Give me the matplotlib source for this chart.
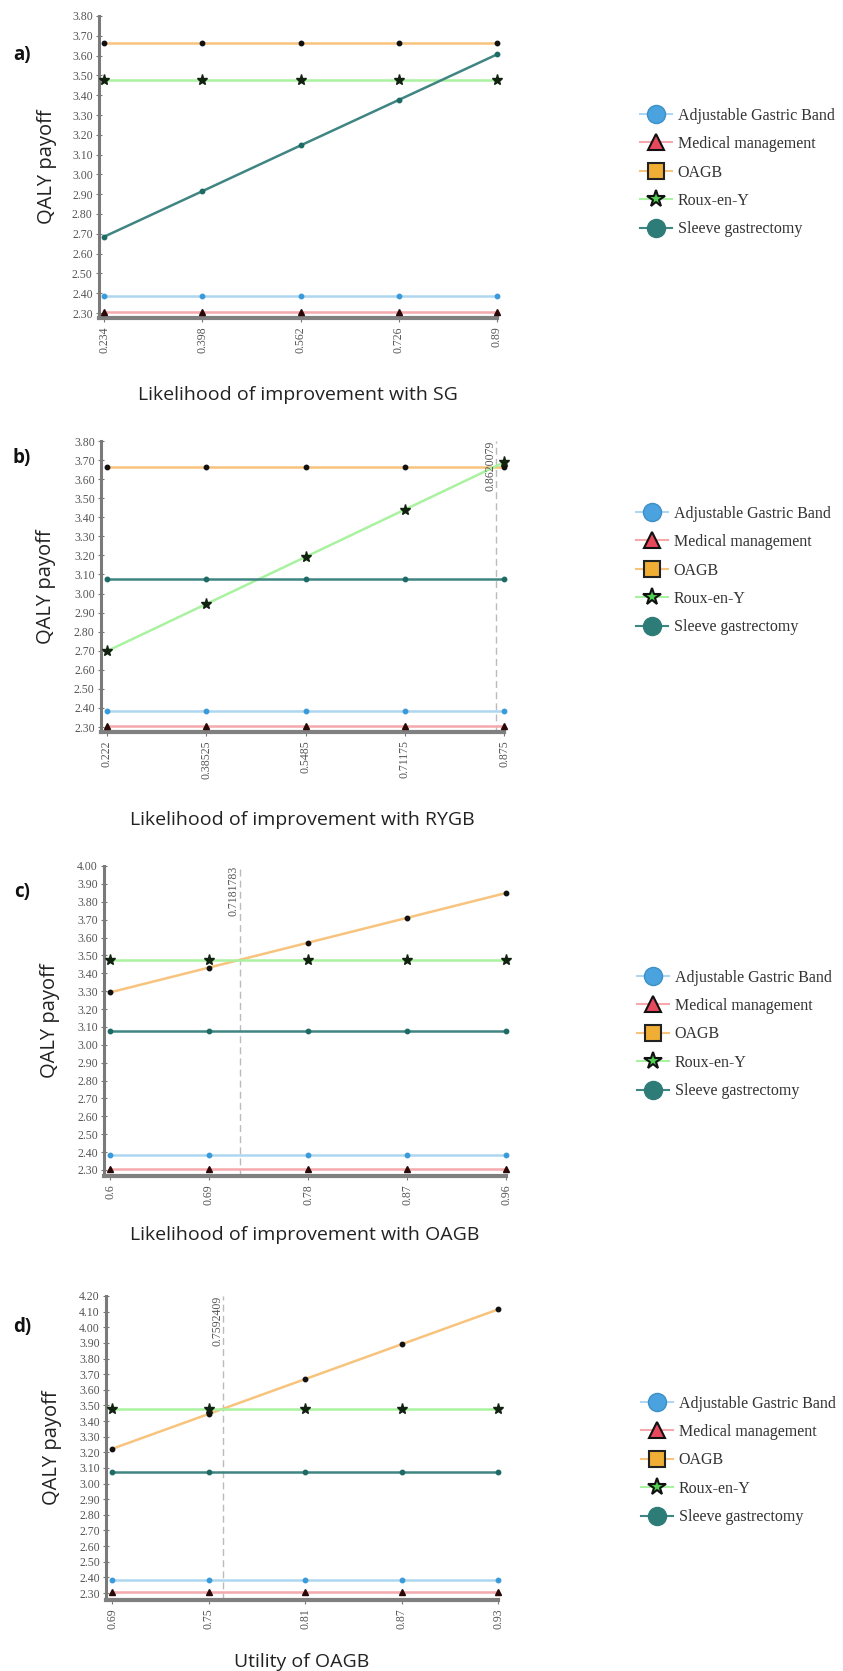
import matplotlib
matplotlib.use("Agg")
import matplotlib.pyplot as plt
from matplotlib.lines import Line2D
import numpy as np

# ---------------- data ----------------
series_names = ["Adjustable Gastric Band", "Medical management", "OAGB", "Roux-en-Y", "Sleeve gastrectomy"]

# panel a: likelihood of improvement with SG
a_x = [0.234, 0.398, 0.562, 0.726, 0.89]
a_xlabels = ["0.234", "0.398", "0.562", "0.726", "0.89"]
a_agb = [2.386, 2.386, 2.386, 2.386, 2.386]
a_mm = [2.305, 2.305, 2.305, 2.305, 2.305]
a_oagb = [3.664, 3.664, 3.664, 3.664, 3.664]
a_rygb = [3.475, 3.475, 3.475, 3.475, 3.475]
a_sg = [2.685, 2.915, 3.146, 3.376, 3.606]

# panel b: likelihood of improvement with RYGB
b_x = [0.222, 0.38525, 0.5485, 0.71175, 0.875]
b_xlabels = ["0.222", "0.38525", "0.5485", "0.71175", "0.875"]
b_agb = [2.386, 2.386, 2.386, 2.386, 2.386]
b_mm = [2.305, 2.305, 2.305, 2.305, 2.305]
b_oagb = [3.664, 3.664, 3.664, 3.664, 3.664]
b_rygb = [2.698, 2.945, 3.192, 3.440, 3.688]
b_sg = [3.076, 3.076, 3.076, 3.076, 3.076]
b_thresh = 0.8620079

# panel c: likelihood of improvement with OAGB
c_x = [0.6, 0.69, 0.78, 0.87, 0.96]
c_xlabels = ["0.6", "0.69", "0.78", "0.87", "0.96"]
c_agb = [2.386, 2.386, 2.386, 2.386, 2.386]
c_mm = [2.305, 2.305, 2.305, 2.305, 2.305]
c_oagb = [3.293, 3.432, 3.571, 3.710, 3.849]
c_rygb = [3.475, 3.475, 3.475, 3.475, 3.475]
c_sg = [3.076, 3.076, 3.076, 3.076, 3.076]
c_thresh = 0.7181783

# panel d: utility of OAGB
d_x = [0.69, 0.75, 0.81, 0.87, 0.93]
d_xlabels = ["0.69", "0.75", "0.81", "0.87", "0.93"]
d_agb = [2.386, 2.386, 2.386, 2.386, 2.386]
d_mm = [2.305, 2.305, 2.305, 2.305, 2.305]
d_oagb = [3.222, 3.445, 3.668, 3.891, 4.114]
d_rygb = [3.475, 3.475, 3.475, 3.475, 3.475]
d_sg = [3.076, 3.076, 3.076, 3.076, 3.076]
d_thresh = 0.7592409

panel_letters = ["a)", "b)", "c)", "d)"]
panel_xtitles = ["Likelihood of improvement with SG", "Likelihood of improvement with RYGB",
                 "Likelihood of improvement with OAGB", "Utility of OAGB"]
ylabel_text = "QALY payoff"

# ---------------- style ----------------
W, H = 843, 1671
fig = plt.figure(figsize=(W / 100, H / 100), dpi=100)
fig.patch.set_facecolor("white")

line_cols = {"agb": "#aed6f1", "mm": "#f5a9ad", "oagb": "#f7c37d", "rygb": "#a9f2a0", "sg": "#3f8582"}
pt_cols = {"agb": "#3b9ad9", "mm": "#2a0808", "oagb": "#111111", "rygb": "#112211", "sg": "#1e6b66"}
pt_mk = {"agb": ("o", 3.2), "mm": ("^", 5), "oagb": ("o", 3.2), "rygb": ("*", 8), "sg": ("o", 3.2)}

serif = ["Liberation Serif", "DejaVu Serif"]
sans = ["Open Sans", "DejaVu Sans"]

layouts = [
    dict(l=99, r=497, t=16, b=318, x0px=104, ytop=3.80, ybot=2.30, ybotpx=313),
    dict(l=101, r=504, t=441, b=732, x0px=107, ytop=3.80, ybot=2.30, ybotpx=727),
    dict(l=104, r=506, t=866, b=1176, x0px=110, ytop=4.00, ybot=2.30, ybotpx=1170),
    dict(l=106, r=498, t=1296, b=1600, x0px=112, ytop=4.20, ybot=2.30, ybotpx=1593),
]
xtitle_y = [395, 820, 1235, 1662]
ylabel_x = [47, 46, 50, 52]
letter_y = [55, 458, 892, 1327]
legend_cy = [172.5, 570.5, 1034.5, 1460.5]
legend_x = [640, 636, 637, 641]

panels = [
    (a_x, a_xlabels, dict(agb=a_agb, mm=a_mm, oagb=a_oagb, rygb=a_rygb, sg=a_sg), None),
    (b_x, b_xlabels, dict(agb=b_agb, mm=b_mm, oagb=b_oagb, rygb=b_rygb, sg=b_sg), b_thresh),
    (c_x, c_xlabels, dict(agb=c_agb, mm=c_mm, oagb=c_oagb, rygb=c_rygb, sg=c_sg), c_thresh),
    (d_x, d_xlabels, dict(agb=d_agb, mm=d_mm, oagb=d_oagb, rygb=d_rygb, sg=d_sg), d_thresh),
]

order = ["agb", "mm", "oagb", "rygb", "sg"]

for i, (xs, xl, ser, thr) in enumerate(panels):
    L = layouts[i]
    ax = fig.add_axes([L["l"] / W, 1 - L["b"] / H, (L["r"] - L["l"]) / W, (L["b"] - L["t"]) / H])
    x0, x1 = xs[0], xs[-1]
    xmin = x0 - (L["x0px"] - L["l"]) * (x1 - x0) / (L["r"] - L["x0px"])
    ax.set_xlim(xmin, x1)
    ymin = L["ybot"] - (L["b"] - L["ybotpx"]) * (L["ytop"] - L["ybot"]) / (L["ybotpx"] - L["t"])
    ax.set_ylim(ymin, L["ytop"])

    for k in order:
        ax.plot(xs, ser[k], color=line_cols[k], lw=1.8, zorder=2, solid_capstyle="butt")
    for k in order:
        m, s = pt_mk[k]
        ax.plot(xs, ser[k], ls="none", marker=m, ms=s, color=pt_cols[k], mec=pt_cols[k], zorder=3,
                clip_on=False)

    if thr is not None:
        ax.axvline(thr, color="#bbbbbb", lw=1, ls=(0, (5, 3)), zorder=1)
        ax.text(thr, L["ytop"], "%.7f" % thr, rotation=90, ha="right", va="top",
                fontsize=8.5, family=serif, color="#555555")

    yt = np.round(np.arange(L["ybot"], L["ytop"] + 0.001, 0.1), 2)
    ax.set_yticks(yt)
    ax.set_yticklabels(["%.2f" % v for v in yt], family=serif, fontsize=8.5, color="#555555")
    ax.set_xticks(xs)
    ax.set_xticklabels(xl, rotation=90, family=serif, fontsize=8.5, color="#555555")
    ax.tick_params(axis="y", direction="inout", length=5, width=0.8, color="#777777", pad=2)
    ax.tick_params(axis="x", direction="out", length=3, width=0.8, color="#777777", pad=3)

    for s in ["top", "right"]:
        ax.spines[s].set_visible(False)
    ax.spines["left"].set_color("#7a7a7a")
    ax.spines["left"].set_linewidth(2.2)
    ax.spines["bottom"].set_color("#808080")
    ax.spines["bottom"].set_linewidth(3)
    ax.set_facecolor("none")

    fig.text(ylabel_x[i] / W, 1 - (L["t"] + L["b"]) / 2 / H, ylabel_text, rotation=90,
             ha="center", va="center", fontsize=14.5, family=sans, color="#222222")
    fig.text((L["l"] + L["r"]) / 2 / W, 1 - xtitle_y[i] / H, panel_xtitles[i],
             ha="center", va="center", fontsize=14, family=sans, color="#222222")
    fig.text(22 / W, 1 - letter_y[i] / H, panel_letters[i], ha="center", va="center",
             fontsize=13.5, fontweight="bold", family=sans, color="#111111")

    handles = [
        Line2D([], [], color=line_cols["agb"], lw=1.5, marker="o", ms=13, mfc="#4aa3df", mec="#3d8fc7"),
        Line2D([], [], color=line_cols["mm"], lw=1.5, marker="^", ms=12, mfc="#e8485c", mec="#111111", mew=1.5),
        Line2D([], [], color=line_cols["oagb"], lw=1.5, marker="s", ms=11, mfc="#f0ae35", mec="#222222", mew=1.5),
        Line2D([], [], color=line_cols["rygb"], lw=1.5, marker="*", ms=13, mfc="#4fd04f", mec="#111111", mew=1.5),
        Line2D([], [], color=line_cols["sg"], lw=1.5, marker="o", ms=13, mfc="#2e7c78", mec="#2e7c78"),
    ]
    fig.legend(handles, series_names, loc="center left",
               bbox_to_anchor=(legend_x[i] / W, 1 - legend_cy[i] / H),
               frameon=False, borderpad=0, borderaxespad=0, handlelength=2.0, handletextpad=0.35,
               labelspacing=0.78, prop={"family": serif, "size": 11.5}, labelcolor="#333333")

fig.savefig("out.png", dpi=100, facecolor="white")
